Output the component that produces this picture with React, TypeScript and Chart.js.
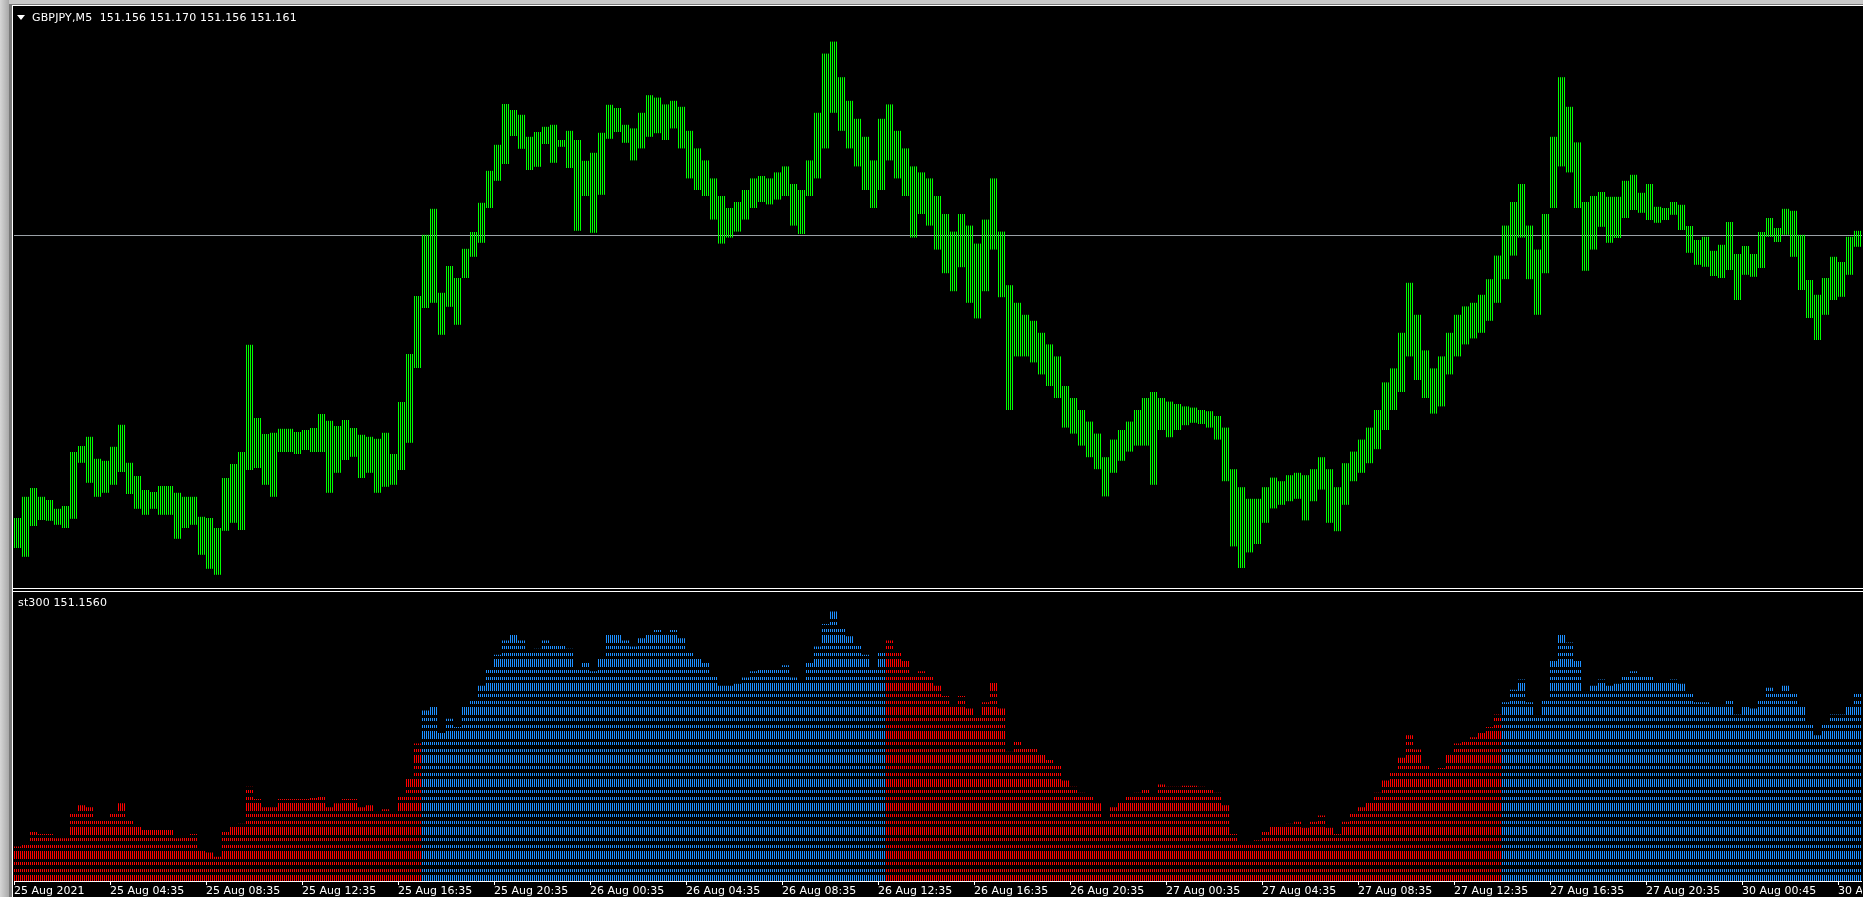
import React, { useEffect, useRef } from "react";
import { Chart, registerables } from "chart.js";

Chart.register(...registerables);

// ---- data -------------------------------------------------------------
const symbolTitle = "GBPJPY,M5";
const quote = { open: "151.156", high: "151.170", low: "151.156", close: "151.161" };
const indicatorName = "st300";
const indicatorValue = "151.1560";
const bidPrice = 151.156;

const tickLabels = [
  "25 Aug 2021", "25 Aug 04:35", "25 Aug 08:35", "25 Aug 12:35", "25 Aug 16:35",
  "25 Aug 20:35", "26 Aug 00:35", "26 Aug 04:35", "26 Aug 08:35", "26 Aug 12:35",
  "26 Aug 16:35", "26 Aug 20:35", "27 Aug 00:35", "27 Aug 04:35", "27 Aug 08:35",
  "27 Aug 12:35", "27 Aug 16:35", "27 Aug 20:35", "30 Aug 00:45", "30 Aug 04:45",
];
const columnsPerTick = 12; // each column groups four M5 bars

const highs = [
  150.449, 150.502, 150.524, 150.502, 150.494, 150.472, 150.479, 150.614, 150.629, 150.652,
  150.597, 150.592, 150.627, 150.682, 150.587, 150.554, 150.519, 150.514, 150.529, 150.529,
  150.512, 150.502, 150.502, 150.452, 150.449, 150.424, 150.549, 150.584, 150.614, 150.882,
  150.699, 150.659, 150.662, 150.672, 150.672, 150.664, 150.669, 150.674, 150.709, 150.692,
  150.679, 150.694, 150.674, 150.657, 150.652, 150.647, 150.662, 150.609, 150.739, 150.859,
  151.004, 151.157, 151.222, 151.012, 151.079, 151.049, 151.122, 151.164, 151.237, 151.317,
  151.382, 151.484, 151.469, 151.457, 151.402, 151.414, 151.427, 151.432, 151.394, 151.417,
  151.394, 151.342, 151.362, 151.412, 151.482, 151.474, 151.432,
  151.423, 151.462, 151.506, 151.500, 151.483, 151.492, 151.477, 151.417, 151.373, 151.343,
  151.298, 151.254, 151.224, 151.239, 151.269, 151.298, 151.304, 151.298, 151.313, 151.328,
  151.284, 151.269, 151.343, 151.462, 151.610, 151.640, 151.551, 151.492, 151.447, 151.402,
  151.343, 151.447, 151.483, 151.417, 151.373, 151.328, 151.313, 151.298, 151.254, 151.209,
  151.165, 151.209, 151.180, 151.135, 151.195, 151.298, 151.165, 151.031, 150.987, 150.957,
  150.942, 150.912, 150.883, 150.853, 150.779, 150.749, 150.719, 150.690, 150.660, 150.601,
  150.645, 150.669, 150.690, 150.719, 150.749, 150.764, 150.749, 150.740, 150.734, 150.728,
  150.725, 150.719, 150.716, 150.704, 150.675, 150.571, 150.526, 150.497, 150.497, 150.526,
  150.550, 150.541, 150.556, 150.562, 150.556, 150.571, 150.601, 150.571, 150.526, 150.586,
  150.615, 150.645, 150.675, 150.719, 150.788, 150.823, 150.912, 151.037, 150.957, 150.868,
  150.823, 150.853, 150.912, 150.957, 150.978, 150.987, 151.007, 151.046, 151.105, 151.180,
  151.239, 151.284, 151.180, 151.120, 151.209, 151.402, 151.551, 151.477, 151.388, 151.239,
  151.254,
  151.264, 151.252, 151.252, 151.292, 151.307, 151.262, 151.284, 151.227, 151.224, 151.239,
  151.232, 151.179, 151.144, 151.152, 151.117, 151.132, 151.189, 151.109, 151.129, 151.109,
  151.164, 151.199, 151.174, 151.222, 151.217, 151.157, 151.044, 151.007, 151.049, 151.102,
  151.089, 151.152, 151.167,
];

const lows = [
  150.374, 150.352, 150.429, 150.444, 150.442, 150.432, 150.424, 150.447, 150.587, 150.537,
  150.502, 150.512, 150.532, 150.564, 150.509, 150.472, 150.457, 150.472, 150.457, 150.457,
  150.397, 150.424, 150.432, 150.357, 150.322, 150.307, 150.417, 150.437, 150.419, 150.569,
  150.574, 150.532, 150.502, 150.614, 150.614, 150.609, 150.619, 150.614, 150.614, 150.512,
  150.562, 150.594, 150.602, 150.549, 150.562, 150.512, 150.527, 150.532, 150.569, 150.637,
  150.824, 150.974, 150.987, 150.907, 150.977, 150.932, 151.049, 151.102, 151.137, 151.224,
  151.292, 151.334, 151.404, 151.372, 151.319, 151.327, 151.384, 151.337, 151.377, 151.324,
  151.167, 151.254, 151.162, 151.257, 151.397, 151.414, 151.387,
  151.343, 151.373, 151.402, 151.411, 151.394, 151.423, 151.373, 151.298, 151.269, 151.254,
  151.195, 151.135, 151.150, 151.165, 151.195, 151.224, 151.239, 151.233, 151.245, 151.254,
  151.180, 151.159, 151.254, 151.298, 151.373, 151.462, 151.417, 151.373, 151.328, 151.269,
  151.224, 151.269, 151.343, 151.298, 151.254, 151.150, 151.209, 151.180, 151.120, 151.061,
  151.016, 151.076, 150.987, 150.948, 151.016, 151.120, 151.001, 150.719, 150.853, 150.853,
  150.838, 150.808, 150.779, 150.749, 150.675, 150.660, 150.630, 150.601, 150.571, 150.503,
  150.562, 150.592, 150.615, 150.630, 150.630, 150.532, 150.669, 150.651, 150.669, 150.681,
  150.687, 150.684, 150.675, 150.645, 150.541, 150.378, 150.324, 150.363, 150.384, 150.437,
  150.473, 150.482, 150.491, 150.497, 150.443, 150.491, 150.520, 150.437, 150.416, 150.482,
  150.541, 150.562, 150.586, 150.621, 150.669, 150.719, 150.764, 150.853, 150.794, 150.749,
  150.710, 150.728, 150.808, 150.853, 150.883, 150.898, 150.912, 150.942, 150.987, 151.046,
  151.105, 151.150, 151.046, 150.957, 151.061, 151.224, 151.328, 151.313, 151.224, 151.067,
  151.120,
  151.177, 151.137, 151.149, 151.199, 151.219, 151.212, 151.194, 151.187, 151.194, 151.207,
  151.169, 151.112, 151.082, 151.077, 151.054, 151.049, 151.069, 150.994, 151.057, 151.052,
  151.074, 151.152, 151.139, 151.157, 151.102, 151.019, 150.949, 150.894, 150.957, 150.994,
  151.002, 151.057, 151.127,
];

const st300 = [
  150.41, 150.43, 150.48, 150.47, 150.47, 150.45, 150.45, 150.58, 150.61, 150.60,
  150.55, 150.55, 150.58, 150.62, 150.55, 150.51, 150.49, 150.49, 150.49, 150.49,
  150.45, 150.46, 150.47, 150.40, 150.38, 150.36, 150.48, 150.51, 150.52, 150.70,
  150.64, 150.60, 150.60, 150.64, 150.64, 150.64, 150.64, 150.645, 150.66, 150.60,
  150.62, 150.64, 150.64, 150.60, 150.61, 150.58, 150.59, 150.57, 150.66, 150.75,
  150.91, 151.07, 151.10, 150.96, 151.03, 150.99, 151.09, 151.13, 151.19, 151.27,
  151.34, 151.41, 151.44, 151.41, 151.36, 151.37, 151.41, 151.39, 151.385, 151.37,
  151.28, 151.30, 151.26, 151.33, 151.44, 151.44, 151.41, 151.38, 151.42, 151.45,
  151.46, 151.44, 151.46, 151.42, 151.36, 151.32, 151.30, 151.25, 151.19, 151.19,
  151.20, 151.23, 151.26, 151.27, 151.27, 151.28, 151.29, 151.23, 151.21, 151.30,
  151.38, 151.49, 151.55, 151.48, 151.43, 151.39, 151.34, 151.28, 151.36, 151.41,
  151.36, 151.31, 151.24, 151.26, 151.24, 151.19, 151.14, 151.09, 151.14, 151.08,
  151.04, 151.11, 151.21, 151.08, 150.87, 150.92, 150.90, 150.89, 150.86, 150.83,
  150.80, 150.73, 150.70, 150.67, 150.65, 150.62, 150.55, 150.60, 150.63, 150.65,
  150.67, 150.69, 150.65, 150.71, 150.70, 150.70, 150.705, 150.705, 150.70, 150.695,
  150.67, 150.61, 150.47, 150.42, 150.43, 150.44, 150.48, 150.51, 150.51, 150.52,
  150.53, 150.50, 150.53, 150.56, 150.50, 150.47, 150.53, 150.58, 150.60, 150.63,
  150.67, 150.73, 150.77, 150.84, 150.95, 150.88, 150.81, 150.77, 150.79, 150.86,
  150.91, 150.93, 150.94, 150.96, 150.99, 151.05, 151.11, 151.17, 151.22, 151.11,
  151.04, 151.13, 151.31, 151.44, 151.40, 151.31, 151.15, 151.19, 151.22, 151.19,
  151.20, 151.25, 151.26, 151.24, 151.24, 151.21, 151.21, 151.22, 151.20, 151.15,
  151.11, 151.11, 151.09, 151.09, 151.13, 151.05, 151.09, 151.08, 151.12, 151.18,
  151.16, 151.19, 151.16, 151.09, 151.00, 150.95, 151.00, 151.05, 151.05, 151.10,
  151.156,
];

// trend segments of the st300 histogram (column index where each segment starts)
const trendStarts = [0, 51, 109, 186];
const trendDirs = ["down", "up", "down", "up"];

// ---- styles -----------------------------------------------------------
const BAR_GREEN = "#00ff00";
const HIST_RED = "#ff0000";
const HIST_BLUE = "#1e90ff";
const BID_GRAY = "#9aa0a6";
const FONT = "'DejaVu Sans', 'Liberation Sans', sans-serif";

const MAIN_RANGE = { min: 150.274, max: 151.729 };
const HIST_RANGE = { min: 150.242, max: 151.645 };

function trendAt(i: number): string {
  let d = trendDirs[0];
  for (let s = 0; s < trendStarts.length; s++) if (i >= trendStarts[s]) d = trendDirs[s];
  return d;
}

function makePattern(ctx: CanvasRenderingContext2D, color: string, striped: boolean) {
  const tile = document.createElement("canvas");
  tile.width = 2;
  tile.height = striped ? 24 : 1;
  const t = tile.getContext("2d")!;
  t.fillStyle = color;
  if (!striped) {
    t.fillRect(0, 0, 1, 1);
  } else {
    for (let r = 0; r < 24; r++) {
      const ph = (r + 5) % 24;
      if (ph < 8 || (ph >= 11 && ph < 14) || (ph >= 18 && ph < 21)) t.fillRect(0, r, 1, 1);
    }
  }
  return ctx.createPattern(tile, "repeat")!;
}

const bidLinePlugin = {
  id: "bidLine",
  beforeDatasetsDraw(chart: any) {
    const { ctx, chartArea, scales } = chart;
    const y = Math.round(scales.y.getPixelForValue(bidPrice)) + 0.5;
    ctx.save();
    ctx.strokeStyle = BID_GRAY;
    ctx.lineWidth = 1;
    ctx.beginPath();
    ctx.moveTo(chartArea.left, y);
    ctx.lineTo(chartArea.right, y);
    ctx.stroke();
    ctx.restore();
  },
};

export default function App() {
  const mainRef = useRef<HTMLCanvasElement>(null);
  const indRef = useRef<HTMLCanvasElement>(null);

  useEffect(() => {
    document.body.style.margin = "0";
    document.body.style.background = "#000";
    const c1 = mainRef.current!;
    const c2 = indRef.current!;
    const ctx1 = c1.getContext("2d")!;
    const ctx2 = c2.getContext("2d")!;

    const categories = highs.map((_, i) =>
      i % columnsPerTick === 0 ? tickLabels[i / columnsPerTick] ?? "" : ""
    );

    const greenPattern = makePattern(ctx1, BAR_GREEN, false);
    const redPattern = makePattern(ctx2, HIST_RED, true);
    const bluePattern = makePattern(ctx2, HIST_BLUE, true);

    const mainChart = new Chart(ctx1, {
      type: "bar",
      data: {
        labels: categories,
        datasets: [
          {
            data: highs.map((h, i) => [lows[i], h]) as any,
            backgroundColor: greenPattern as any,
            borderWidth: 0,
            barPercentage: 1,
            categoryPercentage: 1,
            inflateAmount: 0,
          } as any,
        ],
      },
      options: {
        animation: false,
        responsive: false,
        maintainAspectRatio: false,
        events: [],
        layout: { padding: 0 },
        plugins: { legend: { display: false }, tooltip: { enabled: false } },
        scales: {
          x: { display: false, offset: true },
          y: { display: false, min: MAIN_RANGE.min, max: MAIN_RANGE.max },
        },
      },
      plugins: [bidLinePlugin],
    });

    const indChart = new Chart(ctx2, {
      type: "bar",
      data: {
        labels: categories,
        datasets: [
          {
            data: st300,
            backgroundColor: st300.map((_, i) => (trendAt(i) === "up" ? bluePattern : redPattern)) as any,
            borderWidth: 0,
            barPercentage: 1,
            categoryPercentage: 1,
            inflateAmount: 0,
          } as any,
        ],
      },
      options: {
        animation: false,
        responsive: false,
        maintainAspectRatio: false,
        events: [],
        layout: { padding: 0 },
        plugins: { legend: { display: false }, tooltip: { enabled: false } },
        scales: {
          x: {
            display: true,
            offset: true,
            afterFit: (scale: any) => {
              scale.height = 26;
            },
            grid: {
              display: true,
              drawOnChartArea: false,
              drawTicks: true,
              tickLength: 4,
              offset: true,
              color: (c: any) => (categories[c.index] ? "#ffffff" : "rgba(0,0,0,0)"),
            },
            border: { display: true, color: "#ffffff", width: 1 },
            ticks: {
              autoSkip: false,
              maxRotation: 0,
              minRotation: 0,
              padding: 0,
              align: "start",
              labelOffset: -4,
              color: "#ffffff",
              font: { family: FONT, size: 11 },
            },
          } as any,
          y: { display: false, min: HIST_RANGE.min, max: HIST_RANGE.max },
        },
      },
    });

    return () => {
      mainChart.destroy();
      indChart.destroy();
    };
  }, []);

  const textStyle: React.CSSProperties = {
    position: "absolute",
    color: "#ffffff",
    fontFamily: FONT,
    fontSize: 11,
    lineHeight: "13px",
    whiteSpace: "pre",
    letterSpacing: "0.15px",
  };

  return (
    <div style={{ position: "fixed", left: 0, top: 0, width: 1863, height: 897, overflow: "hidden", background: "#000" }}>
      {/* window frame */}
      <div style={{ position: "absolute", left: 0, top: 0, width: 1863, height: 4, background: "#c8c8c8" }} />
      <div style={{ position: "absolute", left: 0, top: 4, width: 1863, height: 1, background: "#7a7a7a" }} />
      <div style={{ position: "absolute", left: 0, top: 0, width: 9, height: 897, background: "linear-gradient(to right, #d6d6d6, #a8a8a8)" }} />
      <div style={{ position: "absolute", left: 9, top: 4, width: 3, height: 893, background: "#7a7a7a" }} />
      <div style={{ position: "absolute", left: 12, top: 5, width: 1851, height: 1, background: "#ffffff" }} />
      <div style={{ position: "absolute", left: 12, top: 5, width: 1, height: 892, background: "#ffffff" }} />
      {/* panel separators */}
      <div style={{ position: "absolute", left: 12, top: 588, width: 1851, height: 1, background: "#ffffff" }} />
      <div style={{ position: "absolute", left: 12, top: 591, width: 1851, height: 1, background: "#ffffff" }} />

      <canvas ref={mainRef} width={1848} height={582} style={{ position: "absolute", left: 14, top: 6 }} />
      <canvas ref={indRef} width={1848} height={315} style={{ position: "absolute", left: 14, top: 592 }} />

      {/* main window title */}
      <div
        style={{
          position: "absolute",
          left: 17,
          top: 15,
          width: 0,
          height: 0,
          borderLeft: "4.5px solid transparent",
          borderRight: "4.5px solid transparent",
          borderTop: "5px solid #ffffff",
        }}
      />
      <div style={{ ...textStyle, left: 32, top: 11 }}>
        {`${symbolTitle}  ${quote.open} ${quote.high} ${quote.low} ${quote.close}`}
      </div>
      {/* indicator title */}
      <div style={{ ...textStyle, left: 18, top: 596 }}>{`${indicatorName} ${indicatorValue}`}</div>
    </div>
  );
}
